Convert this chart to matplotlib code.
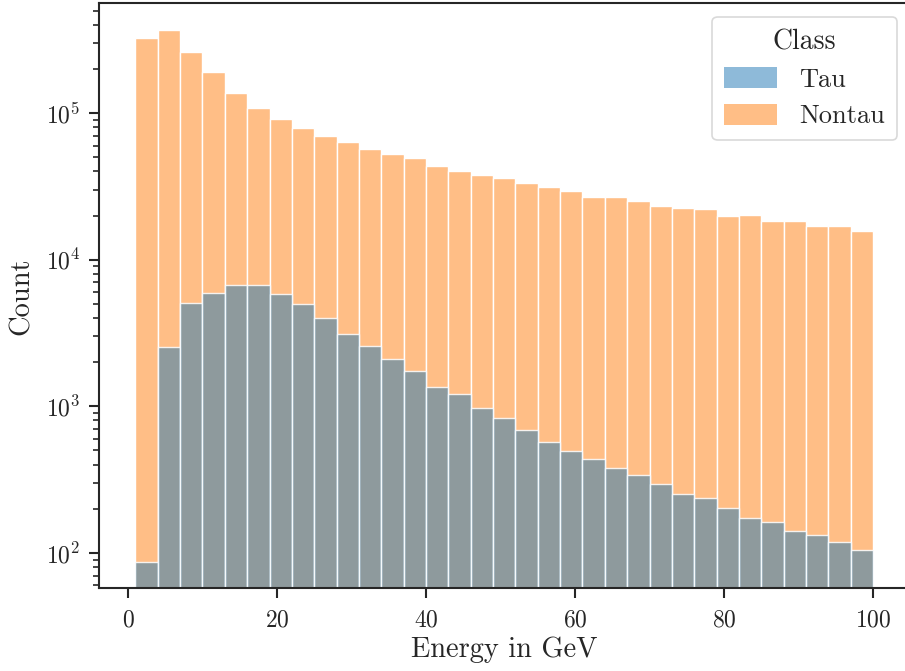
import numpy as np
import matplotlib
matplotlib.use("Agg")
import matplotlib.pyplot as plt
from matplotlib.colors import to_rgba
from matplotlib.patches import Patch

# ---- data ----
bin_min, bin_max, n_bins = 1.0, 100.0, 33
tau_counts = [87, 2540, 5100, 5930, 6700, 6770, 5840, 4970, 4030, 3130,
              2580, 2110, 1750, 1350, 1220, 968, 826, 688, 571, 497,
              439, 378, 339, 296, 253, 236, 203, 173, 163, 142,
              132, 118, 104]
nontau_counts = [324000, 370000, 261000, 190000, 137800, 107800, 90700, 79100, 69500, 63200,
                 56600, 52800, 49100, 43700, 40400, 37900, 36000, 33300, 31300, 29400,
                 26900, 26600, 25100, 23200, 22600, 22100, 19900, 20200, 18500, 18300,
                 16900, 17100, 15600]
classes = ["Tau", "Nontau"]
xlabel = "Energy in GeV"
ylabel = "Count"
legend_title = "Class"

# ---- style ----
plt.rcParams["font.family"] = ["cmr10", "DejaVu Serif"]
plt.rcParams["mathtext.fontset"] = "cm"
plt.rcParams["axes.formatter.use_mathtext"] = True
plt.rcParams["axes.unicode_minus"] = False
dark = "#262626"

fig = plt.figure(figsize=(9.05, 6.71), dpi=100)
W, H = 905, 671
ax = fig.add_axes([98.5 / W, (H - 588.3) / H, (910 - 98.5) / W, (588.3 - 3.3) / H])

edges = np.linspace(bin_min, bin_max, n_bins + 1)
widths = np.diff(edges)
c_tau = "#1f77b4"
c_non = "#ff7f0e"

ax.bar(edges[:-1], nontau_counts, width=widths, align="edge",
       facecolor=to_rgba(c_non, 0.5), edgecolor="white", linewidth=1.0)
ax.bar(edges[:-1], tau_counts, width=widths, align="edge",
       facecolor=to_rgba(c_tau, 0.5), edgecolor=to_rgba("white", 0.85), linewidth=1.0)

ax.set_yscale("log")
lo = np.log10(min(tau_counts)); hi = np.log10(max(nontau_counts))
m = 0.05 * (hi - lo)
ax.set_ylim(10 ** (lo - m), 10 ** (hi + m))
xm = 0.05 * (bin_max - bin_min)
ax.set_xlim(bin_min - xm, bin_max + xm)
ax.set_xticks([0, 20, 40, 60, 80, 100])

for s in ax.spines.values():
    s.set_color(dark)
    s.set_linewidth(1.5)

ax.tick_params(axis="both", which="major", length=7, width=1.5, colors=dark,
               labelsize=17, pad=6)
ax.tick_params(axis="y", which="minor", length=4.5, width=1.2, colors=dark)
ax.tick_params(axis="x", which="major", pad=8)

ax.set_xlabel(xlabel, fontsize=20.5, color=dark, labelpad=4)
ax.set_ylabel(ylabel, fontsize=20.5, color=dark, labelpad=8)

handles = [Patch(facecolor=to_rgba(c_tau, 0.5), edgecolor="none"),
           Patch(facecolor=to_rgba(c_non, 0.5), edgecolor="none")]
leg = ax.legend(handles, classes, title=legend_title, loc="upper right",
                bbox_to_anchor=((897 - 98.5) / (910 - 98.5), 1 - (17 - 3.3) / (588.3 - 3.3)),
                borderaxespad=0, fontsize=19, title_fontsize=20,
                handlelength=2.0, handleheight=0.85, handletextpad=0.85,
                labelspacing=0.45, borderpad=0.45, frameon=True, fancybox=True)
leg.get_frame().set_edgecolor("#d0d0d0")
leg.get_frame().set_linewidth(1.2)
for t in leg.get_texts():
    t.set_color(dark)
leg.get_title().set_color(dark)

fig.savefig("out.png", dpi=100)
